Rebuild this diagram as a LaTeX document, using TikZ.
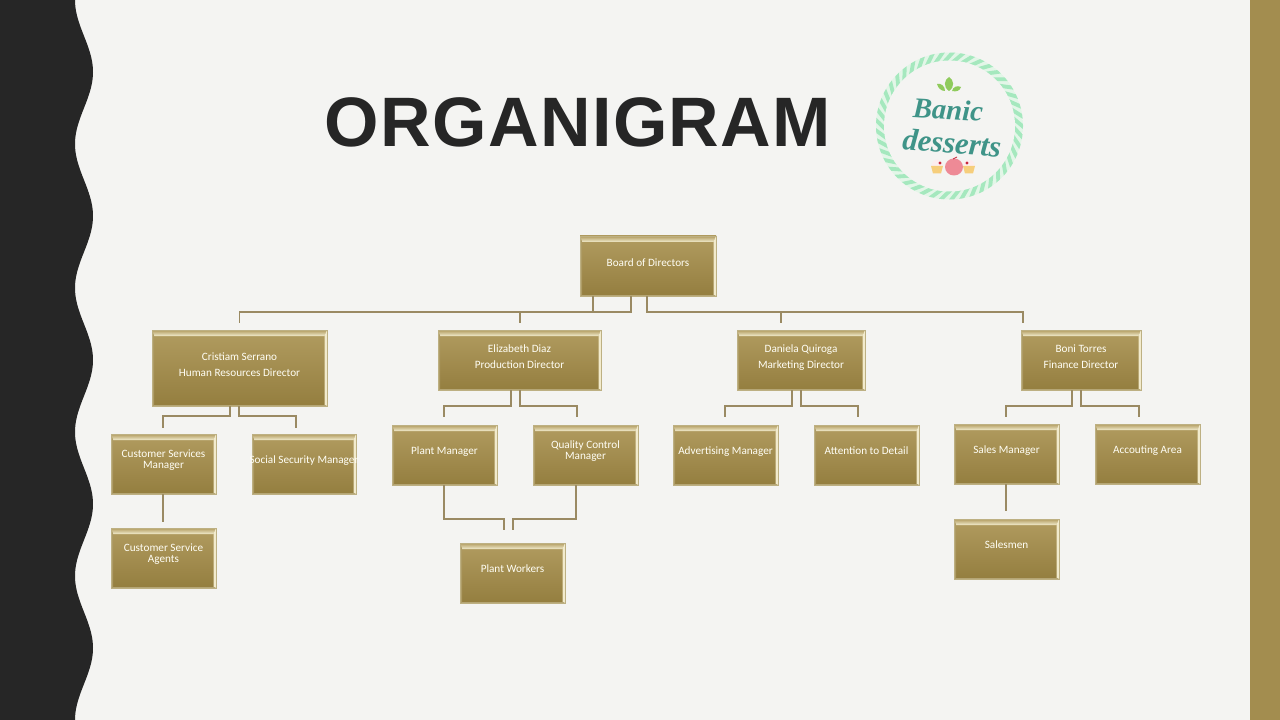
\documentclass[tikz,border=0pt]{standalone}
\usepackage{fontspec}
\usetikzlibrary{calc}
\newfontfamily\boxfont{Carlito}
\newfontfamily\titlefont[LetterSpace=2]{Liberation Sans}
\newfontfamily\logofont{Liberation Serif}
\definecolor{bg}{HTML}{F4F4F2}
\definecolor{dark}{HTML}{262626}
\definecolor{gold}{HTML}{A38D4F}
\definecolor{goldtop}{HTML}{B19C60}
\definecolor{goldbot}{HTML}{947E3F}
\definecolor{edge}{HTML}{BDB083}
\definecolor{cream}{HTML}{F2EBCD}
\definecolor{bevelleft}{HTML}{AE9C66}
\definecolor{bevelbot}{HTML}{B5A675}
\definecolor{conn}{HTML}{9A8A63}
\definecolor{ringlight}{HTML}{E3F6E8}
\definecolor{ringdark}{HTML}{A5E8BE}
\definecolor{teal}{HTML}{3F9488}
\definecolor{leaf}{HTML}{8FCB5C}
\definecolor{cakepink}{HTML}{EE8A96}
\definecolor{cakeyellow}{HTML}{F6CE7C}
\definecolor{cherry}{HTML}{C8283C}
\tikzset{
  orgbox/.style={rectangle,draw=edge,line width=.4pt,inner sep=0pt,outer sep=0pt,
    top color=goldtop,bottom color=goldbot,text=white!96!yellow,
    font=\boxfont\fontsize{8.4}{8.4}\selectfont,
    path picture={
      \coordinate (bbnw) at (path picture bounding box.north west);
      \coordinate (bbne) at (path picture bounding box.north east);
      \coordinate (bbse) at (path picture bounding box.south east);
      \coordinate (bbsw) at (path picture bounding box.south west);
      \shade[top color=goldtop,bottom color=cream]
        (bbnw) -- (bbne) -- ($(bbne)+(-2.5,6)$) -- ($(bbnw)+(2,6)$) -- cycle;
      \fill[cream] (bbne) -- (bbse) -- ($(bbse)+(-2.5,-1)$) -- ($(bbne)+(-2.5,6)$) -- cycle;
      \fill[bevelleft] (bbnw) -- (bbsw) -- ($(bbsw)+(2,-1)$) -- ($(bbnw)+(2,6)$) -- cycle;
      \fill[bevelbot] (bbsw) -- (bbse) -- ($(bbse)+(-2.5,-1)$) -- ($(bbsw)+(2,-1)$) -- cycle;
    }},
  link/.style={draw=conn,line width=1.15pt},
  stripe/.style={draw=ringdark,line width=2.9pt},
}
% name, x1, y1, x2, y2, line skip (pt), text
\newcommand{\orgnode}[7]{%
  \pgfmathsetlengthmacro{\boxw}{(#4-#2)*.75pt}%
  \pgfmathsetlengthmacro{\boxh}{(#5-#3)*.75pt}%
  \node[orgbox,minimum width=\boxw,minimum height=\boxh] (#1) at ({(#2+#4)/2},{(#3+#5)/2})
    {\raisebox{0.1pt}[0pt][0pt]{\makebox[0pt]{\fontsize{8.4}{#6}\selectfont\begin{tabular}{@{}c@{}}#7\end{tabular}}}};%
}
\begin{document}
\begin{tikzpicture}[x=.75pt,y=-.75pt]
\useasboundingbox (0,0) rectangle (1280,720);
\fill[bg] (0,0) rectangle (1280,720);
\fill[gold] (1250,0) rectangle (1280,720);
\fill[dark] (0,0) -- plot[domain=0:720,samples=240,smooth] ({84-9*cos(2.5*\x)},\x) -- (0,720) -- cycle;

\node[text=dark,font=\titlefont\bfseries\fontsize{52.5}{52.5}\selectfont,inner sep=0pt] (title) at (578,122) {ORGANIGRAM};

% logo
\begin{scope}
\clip (949.5,126) circle (73.5);
\fill[ringlight] (949.5,126) circle (73.5);
\foreach \a in {0,8,...,352} {
  \draw[stripe] ({949.5+63*cos(\a)},{126+63*sin(\a)}) -- ({949.5+76*cos(\a+10)},{126+76*sin(\a+10)});
}
\end{scope}
\fill[bg] (949.5,126) circle (65.5);
\fill[leaf] (949,91) .. controls (943,87) and (944,80) .. (949,77) .. controls (954,80) and (955,87) .. (949,91) -- cycle;
\fill[leaf] (945,91) .. controls (941,91) and (938,88) .. (937,84) .. controls (941,83) and (945,86) .. (945,91) -- cycle;
\fill[leaf] (952,91) .. controls (953,87) and (957,85) .. (961,87) .. controls (960,91) and (956,92) .. (952,91) -- cycle;
\node[text=teal,rotate=-3,inner sep=0pt,font=\logofont\bfseries\itshape\fontsize{21.5}{21.5}\selectfont] (logoa) at (948,110) {Banic};
\node[text=teal,rotate=-5,inner sep=0pt,font=\logofont\bfseries\itshape\fontsize{23}{23}\selectfont] (logob) at (952,143) {desserts};
% cupcakes
\fill[white!85!cakepink] (937,165) circle (5.5);
\fill[cherry] (940,163) circle (1.6);
\fill[cakeyellow] (931,166) -- (943,166) -- (941,173.5) -- (933,173.5) -- cycle;
\fill[white!85!cakepink] (969,165) circle (5.5);
\fill[cherry] (967,163) circle (1.6);
\fill[cakeyellow] (963,166) -- (975,166) -- (973,173.5) -- (965,173.5) -- cycle;
\fill[cakepink] (954,167) ellipse (9 and 8.5);
\draw[cherry,line width=.6pt] (953,159) -- (957,157);

% boxes
\orgnode{board}{580}{236}{716}{296}{12}{Board of Directors}
\orgnode{hr}{152}{330}{327}{406}{12}{Cristiam Serrano\\Human Resources Director}
\orgnode{prod}{438}{330}{601}{390}{12}{Elizabeth Diaz\\Production Director}
\orgnode{mkt}{737}{330}{865}{390}{12}{Daniela Quiroga\\Marketing Director}
\orgnode{fin}{1021}{330}{1141}{390}{12}{Boni Torres\\Finance Director}
\orgnode{csm}{111}{434}{216}{494}{8.2}{Customer Services\\Manager}
\orgnode{ssm}{252}{434}{356}{494}{8.2}{Social Security Manager}
\orgnode{csa}{111}{528}{216}{588}{8.2}{Customer Service\\Agents}
\orgnode{pm}{392}{425}{497}{485}{8.2}{Plant Manager}
\orgnode{qcm}{533}{425}{638}{485}{8.2}{Quality Control\\Manager}
\orgnode{pw}{460}{543}{565}{603}{8.2}{Plant Workers}
\orgnode{adv}{673}{425}{778}{485}{8.2}{Advertising Manager}
\orgnode{att}{814}{425}{919}{485}{8.2}{Attention to Detail}
\orgnode{sales}{954}{424}{1059}{484}{8.2}{Sales Manager}
\orgnode{acc}{1095}{424}{1200}{484}{8.2}{Accouting Area}
\orgnode{men}{954}{519}{1059}{579}{8.2}{Salesmen}

% connectors
\draw[link] ($(board.south)+(-55,0)$) |- (239.5,312) -- ($(hr.north)+(0,-7)$);
\draw[link] ($(board.south)+(-17,0)$) |- (520,312) -- ($(prod.north)+(0.5,-7)$);
\draw[link] ($(board.south)+(-1,0)$) |- (781,312) -- ($(mkt.north)+(-20,-7)$);
\draw[link] ($(board.south)+(-1,0)$) |- (1023,312) -- ($(fin.north)+(-58,-7)$);
\draw[link] ($(hr.south)+(-9.5,0)$) |- (163,416) -- ($(csm.north)+(-0.5,-6)$);
\draw[link] ($(hr.south)+(-0.5,0)$) |- (296,416) -- ($(ssm.north)+(-8,-6)$);
\draw[link] ($(prod.south)+(-8.5,0)$) |- (444,406) -- ($(pm.north)+(-0.5,-8)$);
\draw[link] ($(prod.south)+(0.5,0)$) |- (577,406) -- ($(qcm.north)+(-8.5,-8)$);
\draw[link] ($(mkt.south)+(-9,0)$) |- (725,406) -- ($(adv.north)+(-0.5,-8)$);
\draw[link] ($(mkt.south)+(0,0)$) |- (858,406) -- ($(att.north)+(-8.5,-8)$);
\draw[link] ($(fin.south)+(-9,0)$) |- (1006,406) -- ($(sales.north)+(-0.5,-7)$);
\draw[link] ($(fin.south)+(0,0)$) |- (1139,406) -- ($(acc.north)+(-8.5,-7)$);
\draw[link,line width=1.4pt] ($(csm.south)+(-0.5,0)$) -- ($(csa.north)+(-0.5,-6)$);
\draw[link] ($(pm.south)+(-0.5,0)$) |- (504,519) -- ($(pw.north)+(-8.5,-13)$);
\draw[link] ($(qcm.south)+(-9.5,0)$) |- (513,519) -- ($(pw.north)+(0.5,-13)$);
\draw[link,line width=1.4pt] ($(sales.south)+(-0.5,0)$) -- ($(men.north)+(-0.5,-8)$);
\end{tikzpicture}
\end{document}
